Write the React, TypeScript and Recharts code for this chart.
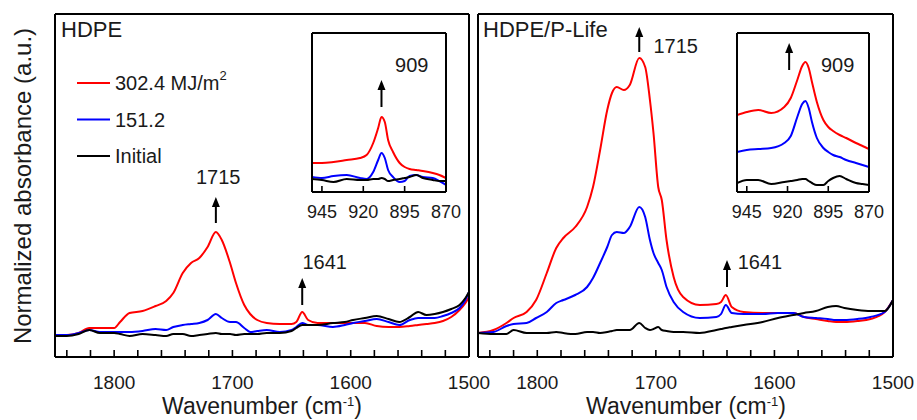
import React from 'react';
import { LineChart, Line, XAxis, YAxis, ReferenceDot, ReferenceLine, Legend, Label } from 'recharts';

const FONT = "'Liberation Sans', Arial, Helvetica, sans-serif";
const TEXT = '#1a1a1a';
const RED = '#ff0000';
const BLUE = '#0000ff';
const BLACK = '#000000';

// ---------- HDPE panel (wavenumber, cm-1) ----------
const hdpeWavenumber = [1850, 1840, 1830, 1821, 1812, 1800, 1795, 1787, 1776, 1765, 1756, 1750, 1742, 1735, 1728, 1721, 1714, 1709, 1702, 1697, 1690, 1685, 1679, 1671, 1660, 1650, 1646, 1641, 1636, 1628, 1615, 1605, 1598, 1588, 1578, 1568, 1559, 1550, 1543, 1536, 1529, 1522, 1515, 1508, 1503, 1500];
const hdpe302 = [22, 22, 24, 29, 29, 29, 35, 44, 46, 51, 56, 64, 84, 94, 99, 110, 125, 117, 94, 74, 52, 43, 37, 34, 33, 33, 35, 45, 37, 34, 34, 34, 34, 34, 31, 30, 30, 31, 32, 33, 34, 36, 40, 47, 54, 60];
const hdpe151 = [22, 22, 24, 27, 25, 25, 25, 25, 26, 28, 27, 30, 32, 33, 34, 37, 43, 39, 35, 35, 29, 25, 26, 27, 25, 27, 30, 34, 32, 32, 30, 32, 34, 36, 38, 35, 32, 37, 39, 39, 39, 41, 44, 49, 57, 65];
const hdpeInitial = [21, 21, 23, 27, 24, 24, 23, 21, 23, 22, 21, 23, 23, 21, 22, 23, 24, 23, 23, 22, 23, 23, 23, 24, 24, 26, 29, 32, 32, 32, 34, 35, 37, 39, 41, 38, 35, 40, 45, 42, 43, 45, 48, 52, 59, 65];

// ---------- HDPE/P-Life panel ----------
const plifeWavenumber = [1850, 1837, 1826, 1820, 1809, 1801, 1792, 1784, 1778, 1768, 1758, 1753, 1747, 1741, 1737, 1733, 1727, 1722, 1714, 1709, 1705, 1702, 1698, 1695, 1691, 1685, 1677, 1663, 1649, 1645, 1641, 1636, 1626, 1610, 1597, 1584, 1575, 1565, 1555, 1548, 1541, 1530, 1519, 1507, 1500];
const plife302 = [24, 27, 34, 39, 45, 57, 84, 109, 119, 130, 150, 170, 207, 247, 264, 270, 267, 272, 299, 290, 257, 224, 170, 157, 117, 80, 60, 52, 53, 55, 62, 50, 45, 44, 44, 44, 40, 38, 36, 35, 35, 36, 38, 45, 57];
const plife151 = [24, 25, 31, 33, 34, 39, 45, 54, 57, 62, 70, 79, 94, 110, 122, 125, 124, 130, 150, 140, 117, 104, 94, 87, 70, 55, 45, 39, 40, 43, 52, 44, 43, 43, 44, 44, 40, 39, 38, 37, 37, 38, 40, 45, 57];
const plifeInitial = [24, 23, 23, 27, 24, 24, 24, 25, 24, 23, 25, 25, 24, 25, 26, 27, 27, 27, 34, 29, 27, 28, 30, 27, 26, 25, 25, 24, 27, 28, 29, 30, 32, 35, 39, 42, 44, 46, 50, 51, 49, 47, 46, 46, 57];

// ---------- Insets (909 cm-1 region) ----------
const insetWavenumber = [951, 945, 938, 930, 922, 918, 914, 911, 909, 907, 905, 902, 898, 895, 892, 888, 884, 878, 874, 870];
const hdpeInset302 = [29, 29, 30, 32, 34, 37, 49, 64, 75, 70, 52, 40, 29, 25, 23, 22, 21, 19, 17, 14];
const hdpeInset151 = [15, 14, 16, 17, 14, 13, 20, 32, 39, 34, 22, 15, 10, 11, 16, 17, 15, 14, 11, 7];
const hdpeInsetInitial = [13, 12, 10, 13, 12, 12, 13, 13, 14, 13, 11, 12, 13, 14, 15, 17, 14, 12, 11, 11];
const plifeInset302 = [77, 80, 82, 79, 85, 94, 112, 126, 130, 124, 110, 90, 72, 65, 61, 57, 54, 49, 46, 43];
const plifeInset151 = [40, 42, 43, 44, 49, 56, 75, 88, 91, 84, 70, 54, 44, 40, 37, 35, 32, 29, 27, 25];
const plifeInsetInitial = [9, 12, 12, 8, 10, 11, 12, 13, 13, 11, 9, 7, 7, 11, 14, 16, 13, 9, 8, 7];

// ---------- Axes ----------
const mainDomain = [1500, 1850];
const mainTicks = [1840, 1820, 1800, 1780, 1760, 1740, 1720, 1700, 1680, 1660, 1640, 1620, 1600, 1580, 1560, 1540, 1520, 1500];
const mainTickLabels = [1800, 1700, 1600, 1500];
const mainYDomain = [0, 343];
const insetDomain = [870, 951];
const insetTicks = [945, 920, 895, 870];
const insetYDomain = [0, 159];

// ---------- Legend ----------
const seriesNames = ['302.4 MJ/m', '151.2', 'Initial'];
const seriesColors = [RED, BLUE, BLACK];

// ---------- Annotations ----------
const hdpeArrows = [{ wn: 1714, base: 134, tip: 160 }, { wn: 1641, base: 52, tip: 79 }];
const hdpeNotes = [{ wn: 1712, y: 180, text: '1715', anchor: 'middle' }, { wn: 1622, y: 95, text: '1641', anchor: 'middle' }];
const plifeArrows = [{ wn: 1714, base: 305, tip: 330 }, { wn: 1640, base: 70, tip: 97 }];
const plifeNotes = [{ wn: 1702, y: 311, text: '1715', anchor: 'start' }, { wn: 1631, y: 95, text: '1641', anchor: 'start' }];
const hdpeInsetArrows = [{ wn: 909, base: 85, tip: 112 }];
const hdpeInsetNotes = [{ wn: 890.7, y: 127, text: '909', anchor: 'middle' }];
const plifeInsetArrows = [{ wn: 919, base: 122, tip: 149 }];
const plifeInsetNotes = [{ wn: 899.5, y: 127, text: '909', anchor: 'start' }];

const buildRows = (wn: number[], a: number[], b: number[], c: number[]) =>
  wn.map((w, i) => ({ wn: w, r: a[i], b: b[i], k: c[i] }));

const AXIS_LINE = { stroke: '#000', strokeWidth: 2 };

const mainTick = (props: any) => {
  const { x, y, payload } = props;
  const v = payload.value;
  return (
    <g>
      {v !== 1500 && <line x1={x} x2={x} y1={y} y2={y - 7} stroke="#000" strokeWidth={1.6} />}
      {mainTickLabels.includes(v) && (
        <text x={x} y={y + 32} textAnchor="middle" fontSize={19} fontFamily={FONT} fill={TEXT}>
          {v}
        </text>
      )}
    </g>
  );
};

const insetTick = (props: any) => {
  const { x, y, payload } = props;
  const v = payload.value;
  return (
    <g>
      {v !== 870 && <line x1={x} x2={x} y1={y} y2={y - 6} stroke="#000" strokeWidth={1.6} />}
      <text x={x} y={y + 26} textAnchor="middle" fontSize={18} fontFamily={FONT} fill={TEXT}>
        {v}
      </text>
    </g>
  );
};

const arrowHead = (p: any) => (
  <path d={`M${p.cx - 4},${p.cy + 10} L${p.cx},${p.cy} L${p.cx + 4},${p.cy + 10} Z`} fill="#000" />
);

const noteShape = (text: string, anchor: string, size: number) => (p: any) => (
  <text x={p.cx} y={p.cy} textAnchor={anchor} dominantBaseline="central" fontSize={size} fontFamily={FONT} fill={TEXT}>
    {text}
  </text>
);

const renderMarks = (arrows: any[], notes: any[], size: number) => [
  ...arrows.map((m, i) => (
    <ReferenceLine
      key={`s${i}`}
      segment={[{ x: m.wn, y: m.base }, { x: m.wn, y: m.tip - 8 }]}
      stroke="#000"
      strokeWidth={2}
      ifOverflow="visible"
    />
  )),
  ...arrows.map((m, i) => (
    <ReferenceDot key={`h${i}`} x={m.wn} y={m.tip} r={4} ifOverflow="visible" shape={arrowHead} />
  )),
  ...notes.map((n, i) => (
    <ReferenceDot key={`n${i}`} x={n.wn} y={n.y} r={1} ifOverflow="visible" shape={noteShape(n.text, n.anchor, size)} />
  )),
];

const seriesLines = () => [
  <Line key="r" type="monotone" dataKey="r" name={seriesNames[0]} stroke={RED} strokeWidth={2} dot={false} isAnimationActive={false} />,
  <Line key="b" type="monotone" dataKey="b" name={seriesNames[1]} stroke={BLUE} strokeWidth={2} dot={false} isAnimationActive={false} />,
  <Line key="k" type="monotone" dataKey="k" name={seriesNames[2]} stroke={BLACK} strokeWidth={2} dot={false} isAnimationActive={false} />,
];

const LegendBox = () => (
  <svg width={230} height={110} style={{ overflow: 'visible' }}>
    {seriesNames.map((name, i) => {
      const cy = 17 + i * 36.5;
      return (
        <g key={name}>
          <line x1={7} x2={40} y1={cy} y2={cy} stroke={seriesColors[i]} strokeWidth={2} />
          <text x={45} y={cy} dominantBaseline="central" fontSize={20} fontFamily={FONT} fill={TEXT}>
            {name}
            {i === 0 && (
              <tspan dy={-8} fontSize={13}>
                2
              </tspan>
            )}
          </text>
        </g>
      );
    })}
  </svg>
);

const xTitle = (cx: number) => () => (
  <text x={cx} y={414} textAnchor="middle" fontSize={23} fontFamily={FONT} fill={TEXT}>
    Wavenumber (cm
    <tspan dy={-8} fontSize={13}>
      -1
    </tspan>
    <tspan dy={8}>)</tspan>
  </text>
);

const panelTitle = (x: number, text: string) => () => (
  <text x={x} y={37} fontSize={22} fontFamily={FONT} fill={TEXT}>
    {text}
  </text>
);

const yTitle = () => (
  <text transform="translate(31,186) rotate(-90)" textAnchor="middle" fontSize={24} fontFamily={FONT} fill={TEXT}>
    Normalized absorbance (a.u.)
  </text>
);

export default function App() {
  const hdpeRows = buildRows(hdpeWavenumber, hdpe302, hdpe151, hdpeInitial);
  const plifeRows = buildRows(plifeWavenumber, plife302, plife151, plifeInitial);
  const hdpeInsetRows = buildRows(insetWavenumber, hdpeInset302, hdpeInset151, hdpeInsetInitial);
  const plifeInsetRows = buildRows(insetWavenumber, plifeInset302, plifeInset151, plifeInsetInitial);

  return (
    <div style={{ position: 'absolute', left: 0, top: 0, width: 917, height: 420, background: '#fff', overflow: 'hidden' }}>
      {/* Left panel: HDPE */}
      <div style={{ position: 'absolute', left: 0, top: 0 }}>
        <LineChart width={490} height={420} data={hdpeRows} margin={{ top: 13, right: 20, bottom: 33, left: 54 }}>
          <XAxis dataKey="wn" type="number" domain={mainDomain} reversed allowDataOverflow ticks={mainTicks} interval={0} height={30} tickSize={0} tickMargin={0} tickLine={false} tick={mainTick} axisLine={AXIS_LINE}>
            <Label content={xTitle(262)} />
          </XAxis>
          <XAxis xAxisId="top" orientation="top" type="number" domain={mainDomain} reversed allowDataOverflow height={1} tick={false} tickLine={false} axisLine={AXIS_LINE}>
            <Label content={panelTitle(61, 'HDPE')} />
          </XAxis>
          <YAxis type="number" domain={mainYDomain} allowDataOverflow width={1} tick={false} tickLine={false} axisLine={AXIS_LINE}>
            <Label content={yTitle} />
          </YAxis>
          <YAxis yAxisId="right" orientation="right" type="number" domain={mainYDomain} allowDataOverflow width={1} tick={false} tickLine={false} axisLine={AXIS_LINE} />
          {seriesLines()}
          {renderMarks(hdpeArrows, hdpeNotes, 20)}
          <Legend layout="vertical" align="center" verticalAlign="middle" wrapperStyle={{ left: 70, top: 66, width: 230, height: 110 }} content={() => <LegendBox />} />
        </LineChart>
      </div>

      {/* Right panel: HDPE/P-Life */}
      <div style={{ position: 'absolute', left: 460, top: 0 }}>
        <LineChart width={457} height={420} data={plifeRows} margin={{ top: 13, right: 23, bottom: 33, left: 17 }}>
          <XAxis dataKey="wn" type="number" domain={mainDomain} reversed allowDataOverflow ticks={mainTicks} interval={0} height={30} tickSize={0} tickMargin={0} tickLine={false} tick={mainTick} axisLine={AXIS_LINE}>
            <Label content={xTitle(226)} />
          </XAxis>
          <XAxis xAxisId="top" orientation="top" type="number" domain={mainDomain} reversed allowDataOverflow height={1} tick={false} tickLine={false} axisLine={AXIS_LINE}>
            <Label content={panelTitle(23, 'HDPE/P-Life')} />
          </XAxis>
          <YAxis type="number" domain={mainYDomain} allowDataOverflow width={1} tick={false} tickLine={false} axisLine={AXIS_LINE} />
          <YAxis yAxisId="right" orientation="right" type="number" domain={mainYDomain} allowDataOverflow width={1} tick={false} tickLine={false} axisLine={AXIS_LINE} />
          {seriesLines()}
          {renderMarks(plifeArrows, plifeNotes, 20)}
        </LineChart>
      </div>

      {/* Left inset */}
      <div style={{ position: 'absolute', left: 300, top: 20 }}>
        <LineChart width={175} height={210} data={hdpeInsetRows} margin={{ top: 12, right: 28, bottom: 8, left: 11 }}>
          <XAxis dataKey="wn" type="number" domain={insetDomain} reversed allowDataOverflow ticks={insetTicks} interval={0} height={30} tickSize={0} tickMargin={0} tickLine={false} tick={insetTick} axisLine={AXIS_LINE} />
          <XAxis xAxisId="top" orientation="top" type="number" domain={insetDomain} reversed allowDataOverflow height={1} tick={false} tickLine={false} axisLine={AXIS_LINE} />
          <YAxis type="number" domain={insetYDomain} allowDataOverflow width={1} tick={false} tickLine={false} axisLine={AXIS_LINE} />
          <YAxis yAxisId="right" orientation="right" type="number" domain={insetYDomain} allowDataOverflow width={1} tick={false} tickLine={false} axisLine={AXIS_LINE} />
          {seriesLines()}
          {renderMarks(hdpeInsetArrows, hdpeInsetNotes, 20)}
        </LineChart>
      </div>

      {/* Right inset */}
      <div style={{ position: 'absolute', left: 725, top: 20 }}>
        <LineChart width={175} height={210} data={plifeInsetRows} margin={{ top: 12, right: 30, bottom: 8, left: 11 }}>
          <XAxis dataKey="wn" type="number" domain={insetDomain} reversed allowDataOverflow ticks={insetTicks} interval={0} height={30} tickSize={0} tickMargin={0} tickLine={false} tick={insetTick} axisLine={AXIS_LINE} />
          <XAxis xAxisId="top" orientation="top" type="number" domain={insetDomain} reversed allowDataOverflow height={1} tick={false} tickLine={false} axisLine={AXIS_LINE} />
          <YAxis type="number" domain={insetYDomain} allowDataOverflow width={1} tick={false} tickLine={false} axisLine={AXIS_LINE} />
          <YAxis yAxisId="right" orientation="right" type="number" domain={insetYDomain} allowDataOverflow width={1} tick={false} tickLine={false} axisLine={AXIS_LINE} />
          {seriesLines()}
          {renderMarks(plifeInsetArrows, plifeInsetNotes, 20)}
        </LineChart>
      </div>
    </div>
  );
}
